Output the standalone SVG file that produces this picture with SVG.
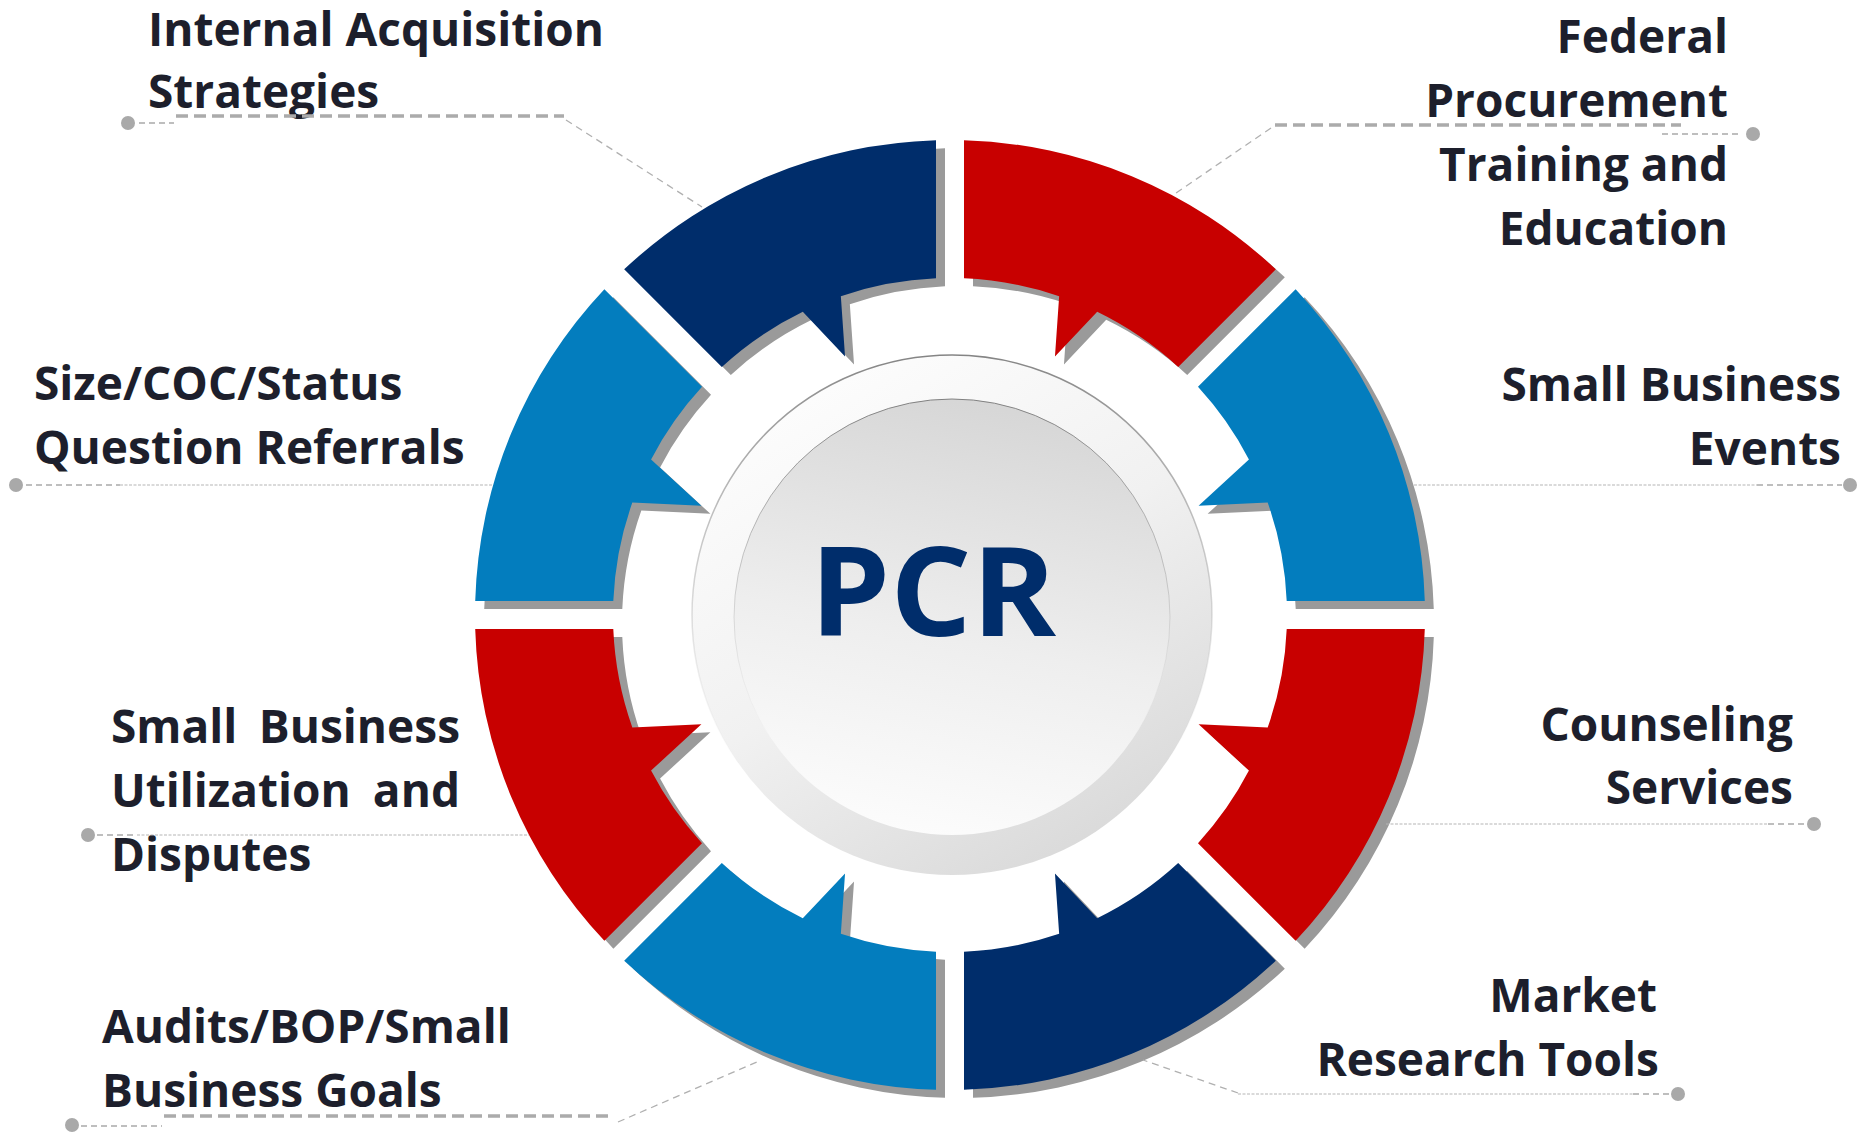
<svg xmlns="http://www.w3.org/2000/svg" width="1870" height="1133" viewBox="0 0 1870 1133">
  <style>
    .lbl { font-family: "Open Sans", "Liberation Sans", sans-serif; font-weight: 700; font-size: 46px; fill: #1d1f2c; }
    .end { text-anchor: end; }
    .sh { fill: #9a9a9a; }
    .red { fill: #c80000; }
    .blue { fill: #037dbe; }
    .navy { fill: #002d6b; }
    .ld { stroke: #a9a9a9; stroke-width: 1.6; stroke-dasharray: 6 4; fill: none; }
    .lk { stroke: #ababab; stroke-width: 3.5; stroke-dasharray: 12 6; fill: none; }
    .lf { stroke: #b5b5b5; stroke-width: 1; stroke-dasharray: 3 1.5; fill: none; }
    .lg { stroke: #b0b0b0; stroke-width: 1.3; stroke-dasharray: 7 5; fill: none; }
    .dot { fill: #a9a9a9; }
  </style>
  <defs>
    <!-- segment touching the vertical axis (top-right orientation) -->
    <path id="segV" d="M 964 140.21 A 475 475 0 0 1 1275.83 269.37 L 1178.19 367.01 A 337 337 0 0 0 1097.2 311.85 L 1054.96 356.5 L 1059.16 296.17 A 337 337 0 0 0 964 278.29 Z"/>
    <!-- segment touching the horizontal axis (drawn in top-right orientation, reflected in use) -->
    <path id="segH" d="M 964 140.21 A 475 475 0 0 1 1275.83 269.37 L 1178.19 367.01 A 337 337 0 0 0 1105.6 316.07 L 1059.13 366.4 L 1062.49 297.33 A 337 337 0 0 0 964 278.29 Z"/>
    <linearGradient id="gOuter" x1="0.2" y1="0.05" x2="0.75" y2="0.95">
      <stop offset="0" stop-color="#fdfdfd"/>
      <stop offset="0.5" stop-color="#f1f1f1"/>
      <stop offset="1" stop-color="#dadada"/>
    </linearGradient>
    <linearGradient id="gInner" x1="0.6" y1="0" x2="0.4" y2="1">
      <stop offset="0" stop-color="#d6d6d6"/>
      <stop offset="0.55" stop-color="#eeeeee"/>
      <stop offset="1" stop-color="#fcfcfc"/>
    </linearGradient>
    <linearGradient id="gRim" x1="0" y1="0" x2="0" y2="1">
      <stop offset="0" stop-color="#6f6f6f" stop-opacity="0.85"/>
      <stop offset="0.45" stop-color="#9a9a9a" stop-opacity="0.4"/>
      <stop offset="0.8" stop-color="#d0d0d0" stop-opacity="0"/>
    </linearGradient>
  </defs>

  <rect x="0" y="0" width="1870" height="1133" fill="#ffffff"/>

  <!-- Center node -->
  <g id="node-pcr">
    <circle cx="952" cy="615" r="260" fill="url(#gOuter)" stroke="url(#gRim)" stroke-width="1.5"/>
    <circle cx="952" cy="617" r="218" fill="url(#gInner)" stroke="url(#gRim)" stroke-width="1"/>
    <text x="810" y="636" textLength="246" lengthAdjust="spacingAndGlyphs" style="font-family: 'Open Sans', 'Liberation Sans', sans-serif; font-weight: 700; font-size: 124px; fill: #002d6b;">PCR</text>
  </g>

  <!-- Top-right: Federal Procurement Training and Education -->
  <g id="node-federal-training">
    <use href="#segV" class="sh" transform="translate(9,8)"/>
    <use href="#segV" class="red"/>
    <text class="lbl end" x="1728" y="53">Federal</text>
    <text class="lbl end" x="1728" y="117">Procurement</text>
    <text class="lbl end" x="1728" y="181">Training and</text>
    <text class="lbl end" x="1728" y="245">Education</text>
  </g>

  <!-- Right-upper: Small Business Events -->
  <g id="node-sb-events">
    <use href="#segH" class="sh" transform="translate(9,8) matrix(0,-1,-1,0,1565,1565)"/>
    <use href="#segH" class="blue" transform="matrix(0,-1,-1,0,1565,1565)"/>
    <text class="lbl end" x="1841" y="401">Small Business</text>
    <text class="lbl end" x="1841" y="465">Events</text>
  </g>

  <!-- Right-lower: Counseling Services -->
  <g id="node-counseling">
    <use href="#segH" class="sh" transform="translate(9,8) matrix(0,1,-1,0,1565,-335)"/>
    <use href="#segH" class="red" transform="matrix(0,1,-1,0,1565,-335)"/>
    <text class="lbl end" x="1793" y="741">Counseling</text>
    <text class="lbl end" x="1793" y="804">Services</text>
  </g>

  <!-- Bottom-right: Market Research Tools -->
  <g id="node-market-research">
    <use href="#segV" class="sh" transform="translate(9,8) matrix(1,0,0,-1,0,1230)"/>
    <use href="#segV" class="navy" transform="matrix(1,0,0,-1,0,1230)"/>
    <text class="lbl end" x="1657" y="1012">Market</text>
    <text class="lbl end" x="1659" y="1076">Research Tools</text>
  </g>

  <!-- Bottom-left: Audits/BOP/Small Business Goals -->
  <g id="node-audits">
    <use href="#segV" class="sh" transform="translate(9,8) matrix(-1,0,0,-1,1900,1230)"/>
    <use href="#segV" class="blue" transform="matrix(-1,0,0,-1,1900,1230)"/>
    <text class="lbl" x="102" y="1043">Audits/BOP/Small</text>
    <text class="lbl" x="102" y="1107">Business Goals</text>
  </g>

  <!-- Left-lower: Small Business Utilization and Disputes -->
  <g id="node-sb-utilization">
    <use href="#segH" class="sh" transform="translate(9,8) matrix(0,1,1,0,335,-335)"/>
    <use href="#segH" class="red" transform="matrix(0,1,1,0,335,-335)"/>
    <text class="lbl" x="111" y="743">Small<tspan x="460" text-anchor="end"> Business</tspan></text>
    <text class="lbl" x="111" y="807">Utilization<tspan x="460" text-anchor="end"> and</tspan></text>
    <text class="lbl" x="111" y="871">Disputes</text>
  </g>

  <!-- Left-upper: Size/COC/Status Question Referrals -->
  <g id="node-size-coc">
    <use href="#segH" class="sh" transform="translate(9,8) matrix(0,-1,1,0,335,1565)"/>
    <use href="#segH" class="blue" transform="matrix(0,-1,1,0,335,1565)"/>
    <text class="lbl" x="34" y="400">Size/COC/Status</text>
    <text class="lbl" x="34" y="464">Question Referrals</text>
  </g>

  <!-- Top-left: Internal Acquisition Strategies -->
  <g id="node-internal-acq">
    <use href="#segV" class="sh" transform="translate(9,8) matrix(-1,0,0,1,1900,0)"/>
    <use href="#segV" class="navy" transform="matrix(-1,0,0,1,1900,0)"/>
    <text class="lbl" x="148" y="46">Internal Acquisition</text>
    <text class="lbl" x="148" y="108">Strategies</text>
  </g>

  <!-- Connectors (leader lines) -->
  <g id="connectors">
    <line class="ld" x1="139" y1="123" x2="174" y2="123"/>
    <line class="lk" x1="176" y1="116" x2="564" y2="116"/>
    <line class="lg" x1="566" y1="120" x2="702" y2="207"/>
    <circle class="dot" cx="128" cy="123" r="7"/>

    <line class="ld" x1="1662" y1="134" x2="1742" y2="134"/>
    <line class="lk" x1="1275" y1="125" x2="1681" y2="125"/>
    <line class="lg" x1="1271" y1="128" x2="1176" y2="193"/>
    <circle class="dot" cx="1753" cy="134" r="7"/>

    <line class="ld" x1="26" y1="485" x2="120" y2="485"/>
    <line class="lf" x1="120" y1="485" x2="493" y2="485"/>
    <circle class="dot" cx="16" cy="485" r="7"/>

    <line class="ld" x1="1757" y1="485" x2="1842" y2="485"/>
    <line class="lf" x1="1414" y1="485" x2="1757" y2="485"/>
    <circle class="dot" cx="1850" cy="485" r="7"/>

    <line class="ld" x1="97" y1="835" x2="137" y2="835"/>
    <line class="lf" x1="137" y1="835" x2="529" y2="835"/>
    <circle class="dot" cx="88" cy="835" r="7"/>

    <line class="ld" x1="1768" y1="824" x2="1806" y2="824"/>
    <line class="lf" x1="1386" y1="824" x2="1768" y2="824"/>
    <circle class="dot" cx="1814" cy="824" r="7"/>

    <line class="ld" x1="81" y1="1126" x2="162" y2="1126"/>
    <line class="lk" x1="164" y1="1116" x2="614" y2="1116"/>
    <line class="lg" x1="618" y1="1122" x2="757" y2="1062"/>
    <circle class="dot" cx="72" cy="1125" r="7"/>

    <line class="ld" x1="1633" y1="1094" x2="1669" y2="1094"/>
    <line class="lf" x1="1238" y1="1094" x2="1633" y2="1094"/>
    <line class="lg" x1="1238" y1="1093" x2="1143" y2="1060"/>
    <circle class="dot" cx="1678" cy="1094" r="7"/>
  </g>
</svg>
